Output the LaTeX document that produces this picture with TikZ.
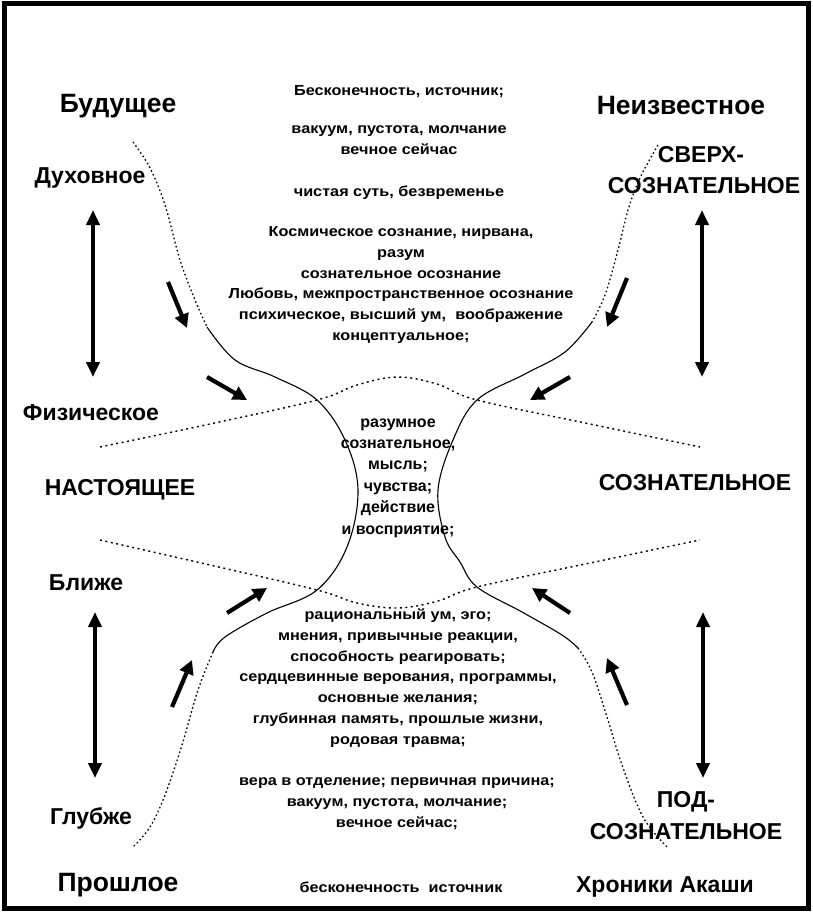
\documentclass[tikz,border=0pt]{standalone}
\usepackage{fontspec}
\setmainfont{Liberation Sans}
\newfontfamily\widefont[FakeStretch=1.12]{Liberation Sans}
\usetikzlibrary{arrows.meta}
\tikzset{
  biglab/.style={font=\fontsize{23}{26}\selectfont\bfseries, inner sep=0pt},
  cornerlab/.style={font=\fontsize{26.5}{30}\selectfont\bfseries, inner sep=0pt},
  ctext/.style={font=\widefont\fontsize{14.5}{20.8}\selectfont\bfseries, align=center, inner sep=0pt},
  mtext/.style={font=\fontsize{16}{21.4}\selectfont\bfseries, align=center, inner sep=0pt},
  curvesolid/.style={line width=1.1pt},
  curvedot/.style={line width=1.3pt, dash pattern=on 1.6pt off 2.6pt},
  banddot/.style={line width=1.4pt, dash pattern=on 2pt off 3.5pt},
  shortarrow/.style={line width=4.2pt, -{Triangle[length=14pt,width=14pt]}},
  dblarrow/.style={line width=4.2pt, {Triangle[length=15pt,width=13pt]}-{Triangle[length=15pt,width=13pt]}}
}
\begin{document}
\begin{tikzpicture}[x=1pt,y=-1pt]
\useasboundingbox (0,0) rectangle (812,912);
\fill[white] (0,0) rectangle (812,912);
\draw[line width=5pt] (4,4) rectangle (808,908);

% ---- labels ----
\node[cornerlab] (fut) at (118,106) {Будущее};
\node[cornerlab] (unk) at (681,106) {Неизвестное};
\node[biglab] (spir) at (90,178) {Духовное};
\node[biglab] (sup1) at (701,155) {СВЕРХ-};
\node[biglab] (sup2) at (704,186) {СОЗНАТЕЛЬНОЕ};
\node[biglab] (phys) at (91,413) {Физическое};
\node[biglab] (pres) at (120,490) {НАСТОЯЩЕЕ};
\node[biglab] (cons) at (695,483) {СОЗНАТЕЛЬНОЕ};
\node[biglab] (near) at (86,583) {Ближе};
\node[biglab] (deep) at (91,818) {Глубже};
\node[cornerlab] (past) at (118,885) {Прошлое};
\node[biglab] (sub1) at (686,802) {ПОД-};
\node[biglab] (sub2) at (686,832) {СОЗНАТЕЛЬНОЕ};
\node[biglab] (akas) at (665,887) {Хроники Акаши};

% ---- central texts ----
\node[ctext] (t1) at (399,92) {Бесконечность, источник;};
\node[ctext] (t2) at (399,140) {вакуум, пустота, молчание\\вечное сейчас};
\node[ctext] (t3) at (399,193) {чистая суть, безвременье};
\node[ctext] (t4) at (401,285) {Космическое сознание, нирвана,\\разум\\сознательное осознание\\Любовь, межпространственное осознание\\психическое, высший ум,\ \ воображение\\концептуальное;};
\node[mtext] (m1) at (398,478) {разумное\\сознательное,\\мысль;\\чувства;\\действие\\и восприятие;};
\node[ctext] (b1) at (398,678) {рациональный ум, эго;\\мнения, привычные реакции,\\способность реагировать;\\сердцевинные верования, программы,\\основные желания;\\глубинная память, прошлые жизни,\\родовая травма;};
\node[ctext] (b2) at (397,804) {вера в отделение; первичная причина;\\вакуум, пустота, молчание;\\вечное сейчас;};
\node[ctext] (b3) at (401,887) {бесконечность\ \ источник};

% ---- hourglass curves ----
\draw[curvedot] plot[smooth, tension=0.6] coordinates {(133,142) (150,168) (165,205) (180,260) (195,300) (207,327)};
\draw[curvesolid] plot[smooth, tension=0.6] coordinates {(207,327) (235,360) (275,377) (317,400) (345,440) (358,490) (347,547) (317,590) (267,613) (225,637) (213,652)};
\draw[curvedot] plot[smooth, tension=0.6] coordinates {(213,652) (198,690) (182,745) (165,795) (150,827) (133,847)};

\draw[curvedot] plot[smooth, tension=0.6] coordinates {(658,145) (640,178) (628,210) (618,250) (605,295) (592,322)};
\draw[curvesolid] plot[smooth, tension=0.6] coordinates {(592,322) (565,352) (525,374) (477,400) (453,440) (438,490) (445,537) (460,562) (477,587) (522,612) (562,635) (578,648)};
\draw[curvedot] plot[smooth, tension=0.6] coordinates {(578,648) (592,672) (607,717) (622,765) (643,817) (667,847)};

% ---- present band ----
\draw[banddot] plot[smooth, tension=0.6] coordinates {(100,447) (210,424) (317,400) (357,385) (397,377) (437,384) (477,400) (590,424) (700,447)};
\draw[banddot] plot[smooth, tension=0.6] coordinates {(100,540) (210,565) (317,590) (357,603) (398,608) (438,601) (477,587) (590,563) (700,540)};

% ---- vertical double arrows ----
\coordinate (la1) at (93,210); \coordinate (la2) at (93,377);
\coordinate (lb1) at (95,612); \coordinate (lb2) at (95,778);
\coordinate (ra1) at (702,210); \coordinate (ra2) at (702,377);
\coordinate (rb1) at (703,612); \coordinate (rb2) at (703,778);
\draw[dblarrow] (la1) -- (la2);
\draw[dblarrow] (lb1) -- (lb2);
\draw[dblarrow] (ra1) -- (ra2);
\draw[dblarrow] (rb1) -- (rb2);

% ---- short arrows ----
\coordinate (s1a) at (168,282); \coordinate (s1b) at (187,328);
\coordinate (s2a) at (207,377); \coordinate (s2b) at (247,400);
\coordinate (s3a) at (227,613); \coordinate (s3b) at (267,588);
\coordinate (s4a) at (172,707); \coordinate (s4b) at (192,660);
\coordinate (s5a) at (627,278); \coordinate (s5b) at (607,327);
\coordinate (s6a) at (570,377); \coordinate (s6b) at (530,400);
\coordinate (s7a) at (570,613); \coordinate (s7b) at (532,588);
\coordinate (s8a) at (627,705); \coordinate (s8b) at (607,658);
\foreach \p in {1,...,8} { \draw[shortarrow] (s\p a) -- (s\p b); }
\end{tikzpicture}
\end{document}
